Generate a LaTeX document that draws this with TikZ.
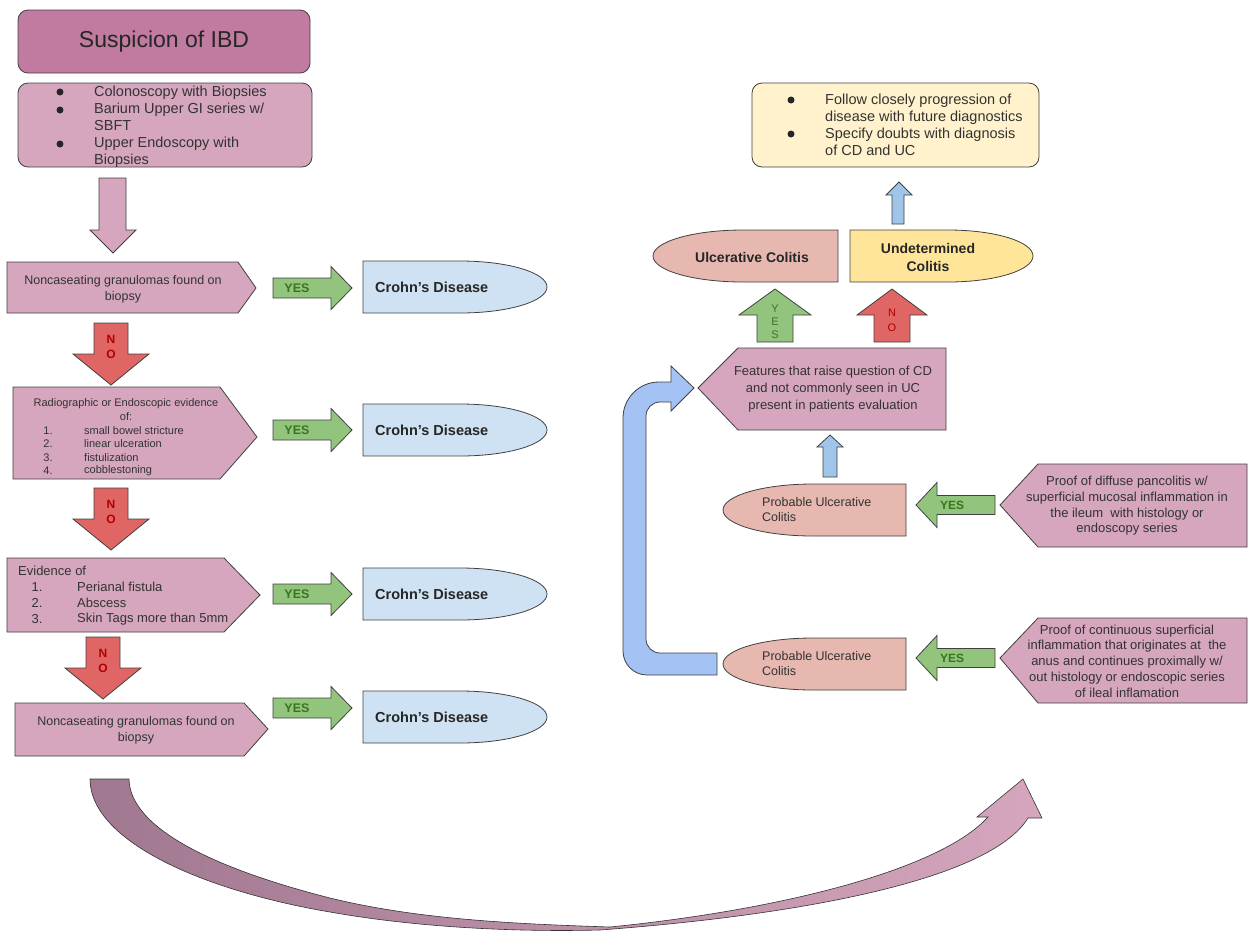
\documentclass[tikz,border=0pt]{standalone}
\usepackage{fontspec}
\setmainfont{Liberation Sans}
\definecolor{boxA}{HTML}{C27BA0}
\definecolor{boxB}{HTML}{D5A6BD}
\definecolor{cdblue}{HTML}{CFE2F3}
\definecolor{ucpink}{HTML}{E6B8AF}
\definecolor{udyel}{HTML}{FFE599}
\definecolor{fuyel}{HTML}{FFF2CC}
\definecolor{yesgr}{HTML}{93C47D}
\definecolor{nored}{HTML}{E06666}
\definecolor{arrbl}{HTML}{A4C2F4}
\definecolor{arrbl2}{HTML}{9FC5E8}
\definecolor{yestx}{HTML}{38761D}
\definecolor{notx}{HTML}{B00000}
\definecolor{bodytx}{HTML}{333333}
\definecolor{curvL}{HTML}{A07890}
\definecolor{curvR}{HTML}{D5A6BD}
\tikzset{
  bx/.style={draw=black!75, line width=0.8pt},
  tx/.style={text=bodytx, inner sep=0pt, align=center},
  dot/.style={circle, fill=black!85, inner sep=0pt, minimum size=7pt},
  fsA/.style={font=\fontsize{12.5}{16}\selectfont},
  fsB/.style={font=\fontsize{14.5}{17}\selectfont},
  fsC/.style={font=\fontsize{11}{13.5}\selectfont},
  fsD/.style={font=\fontsize{13}{16}\selectfont},
  yeslab/.style={inner sep=0pt, text=yestx, font=\bfseries\fontsize{12.5}{14}\selectfont},
  nolab/.style={inner sep=0pt, text=notx, font=\bfseries\fontsize{12}{14}\selectfont},
  cdlab/.style={inner sep=0pt, text=black!85, font=\bfseries\fontsize{14.5}{18}\selectfont, align=center},
}
\begin{document}
\begin{tikzpicture}[x=1pt,y=-1pt]
  \useasboundingbox (0,0) rectangle (1248,930);
  %left column
  \draw[bx,fill=boxA,rounded corners=10pt] (18,10) rectangle (310,73);
  \node[tx,text=black!85,font=\fontsize{23}{26}\selectfont] (susp) at (164,42) {Suspicion of IBD};
  \draw[bx,fill=boxB,rounded corners=10pt] (18,83) rectangle (312,167);
  \node[tx,fsB,anchor=north west,align=left] (tests) at (94,86) {Colonoscopy with Biopsies\\Barium Upper GI series w/\\SBFT\\Upper Endoscopy with\\Biopsies};
  \foreach \y in {92,110,144} \node[dot] (bul\y) at (60,\y) {};
  \draw[bx,fill=boxB] (99,178)--++(27,0)--++(0,52)--++(10,0)--(113,253)--(90,230)--++(9,0)--cycle;
  \draw[bx,fill=boxB] (7,262)--(238,262)--(256,288)--(238,313)--(7,313)--cycle;
  \node[tx,fsA] (gran1) at (123,289) {Noncaseating granulomas found on\\biopsy};
  \draw[bx,fill=boxB] (13,387)--(220,387)--(257,437)--(220,479)--(13,479)--cycle;
  \node[tx,fsC] (radio) at (126,404) {Radiographic or Endoscopic evidence};
  \node[tx,fsC] (radiob) at (126,417) {of:};
  \foreach \i/\y/\s in {1/431/small bowel stricture,2/444/linear ulceration,3/458/fistulization,4/471/cobblestoning}{
    \node[tx,fsC] (rn\i) at (48,\y) {\i.};
    \node[tx,fsC,anchor=west] (ri\i) at (84,\y) {\s};
  }
  \draw[bx,fill=boxB] (7,558)--(224,558)--(260,595)--(224,632)--(7,632)--cycle;
  \node[tx,fsD,anchor=west] (evid) at (18,571) {Evidence of};
  \foreach \i/\y/\s in {1/587/Perianal fistula,2/603/Abscess,3/619/Skin Tags more than 5mm}{
    \node[tx,fsD] (en\i) at (37,\y) {\i.};
    \node[tx,fsD,anchor=west] (ei\i) at (77,\y) {\s};
  }
  \draw[bx,fill=boxB] (15,703)--(244,703)--(268,729)--(244,756)--(15,756)--cycle;
  \node[tx,fsA] (gran2) at (136,730) {Noncaseating granulomas found on\\biopsy};
  %yes arrows and Crohn's
  \foreach \c/\t in {288/261,430/404,594/568,708/691}{
    \draw[bx,fill=yesgr] (273,\c-10)--++(58,0)--++(0,-11.5)--(352,\c)--(331,\c+21.5)--++(0,-11.5)--++(-58,0)--cycle;
    \node[yeslab] (yes\c) at (297,\c) {YES};
    \draw[bx,fill=cdblue] (363,\t)--(460,\t) arc[start angle=-90,end angle=90,x radius=87,y radius=26]--(363,\t+52)--cycle;
    \node[cdlab,anchor=west] (cd\t) at (375,\t+26) {Crohn’s Disease};
  }
  %no arrows
  \foreach \cx/\t in {111/323,111/488,103/637}{
    \draw[bx,fill=nored] (\cx-17,\t)--++(34,0)--++(0,31)--++(21,0)--(\cx,\t+62)--(\cx-38,\t+31)--++(21,0)--cycle;
    \node[nolab] (n\t) at (\cx,\t+16) {N};
    \node[nolab] (o\t) at (\cx,\t+31) {O};
  }
  %curved arrow
  \draw[line width=0.6pt,draw=black!80,left color=curvL,right color=curvR] (90,779)
    .. controls (90,840) and (200,890) .. (330,912)
    .. controls (420,928) and (520,932) .. (600,930)
    .. controls (800,915) and (990,880) .. (1028,818)
    -- (1042,818) -- (1023,779) -- (977,817) -- (988,817)
    .. controls (940,870) and (780,910) .. (610,927)
    .. controls (520,924) and (420,920) .. (330,898)
    .. controls (220,870) and (130,830) .. (129,779) -- cycle;
  %right column
  \draw[bx,fill=fuyel,rounded corners=10pt] (752,83) rectangle (1039,167);
  \node[tx,fsB,anchor=north west,align=left] (follow) at (825,94) {Follow closely progression of\\disease with future diagnostics\\Specify doubts with diagnosis\\of CD and UC};
  \foreach \y in {100,134} \node[dot] (fb\y) at (791,\y) {};
  \draw[bx,fill=arrbl2] (892,224)--++(0,-29)--++(-6,0)--(899,182)--(912,195)--++(-8,0)--++(0,29)--cycle;
  \draw[bx,fill=ucpink] (838,230)--(743,230) arc[start angle=-90,end angle=-270,x radius=90,y radius=26]--(838,282)--cycle;
  \node[cdlab,font=\bfseries\fontsize{14}{18}\selectfont] (uc) at (752,257) {Ulcerative Colitis};
  \draw[bx,fill=udyel] (850,230)--(948,230) arc[start angle=-90,end angle=90,x radius=85,y radius=26]--(850,282)--cycle;
  \node[cdlab,font=\bfseries\fontsize{14}{18}\selectfont] (ud) at (928,257) {Undetermined\\Colitis};
  \draw[bx,fill=yesgr] (757,342)--++(0,-27)--++(-18,0)--(775,289)--(811,315)--++(-18,0)--++(0,27)--cycle;
  \foreach \l/\y in {Y/309,E/322,S/335} \node[inner sep=0pt,text=yestx,font=\fontsize{11}{12}\selectfont] (u\l) at (775,\y) {\l};
  \draw[bx,fill=nored] (874,342)--++(0,-27)--++(-17,0)--(892,289)--(927,315)--++(-17,0)--++(0,27)--cycle;
  \node[inner sep=0pt,text=notx,font=\fontsize{11}{12}\selectfont] (uN) at (892,313) {N};
  \node[inner sep=0pt,text=notx,font=\fontsize{11}{12}\selectfont] (uO) at (892,328) {O};
  \draw[bx,fill=boxB] (698,388)--(738,348)--(946,348)--(946,430)--(738,430)--cycle;
  \node[tx,font=\fontsize{13}{17}\selectfont] (feat) at (833,389) {Features that raise question of CD\\and not commonly seen in UC\\present in patients evaluation};
  \draw[bx,fill=arrbl] (717,675) [rounded corners=24pt]-- (623,675) [rounded corners=36pt]-- (623,382) [sharp corners]-- (671,382) -- (671,366) -- (694,388) -- (671,411) -- (671,402) [rounded corners=14pt]-- (646,402) -- (646,653) [sharp corners]-- (717,653) -- cycle;
  \draw[bx,fill=arrbl2] (823,477)--++(0,-30)--++(-6,0)--(830,435)--(843,447)--++(-6,0)--++(0,30)--cycle;
  \foreach \t/\c/\p in {484/505/pa,638/658/pb}{
    \draw[bx,fill=ucpink] (906,\t)--(813,\t) arc[start angle=-90,end angle=-270,x radius=90,y radius=26]--(906,\t+52)--cycle;
    \node[tx,font=\fontsize{12.5}{15}\selectfont,anchor=west,align=left] (prob\p) at (762,\t+26) {Probable Ulcerative\\Colitis};
    \draw[bx,fill=yesgr] (995,\c-9.5)--++(0,19)--(937,\c+9.5)--(937,\c+22.5)--(916,\c)--(937,\c-22.5)--(937,\c-9.5)--cycle;
    \node[yeslab,font=\bfseries\fontsize{12}{14}\selectfont] (yr\p) at (952,\c) {YES};
  }
  \draw[bx,fill=boxB] (1000,505)--(1038,464)--(1247,464)--(1247,547)--(1038,547)--cycle;
  \node[tx,font=\fontsize{13}{15.7}\selectfont] (proof1) at (1127,506) {Proof of diffuse pancolitis w/\\superficial mucosal inflammation in\\the ileum~ with histology or\\endoscopy series};
  \draw[bx,fill=boxB] (1000,658)--(1038,618)--(1247,618)--(1247,703)--(1038,703)--cycle;
  \node[tx,font=\fontsize{13}{15.8}\selectfont] (proof2) at (1127,661) {Proof of continuous superficial\\inflammation that originates at~ the\\anus and continues proximally w/\\out histology or endoscopic series\\of ileal inflamation};
\end{tikzpicture}
\end{document}
